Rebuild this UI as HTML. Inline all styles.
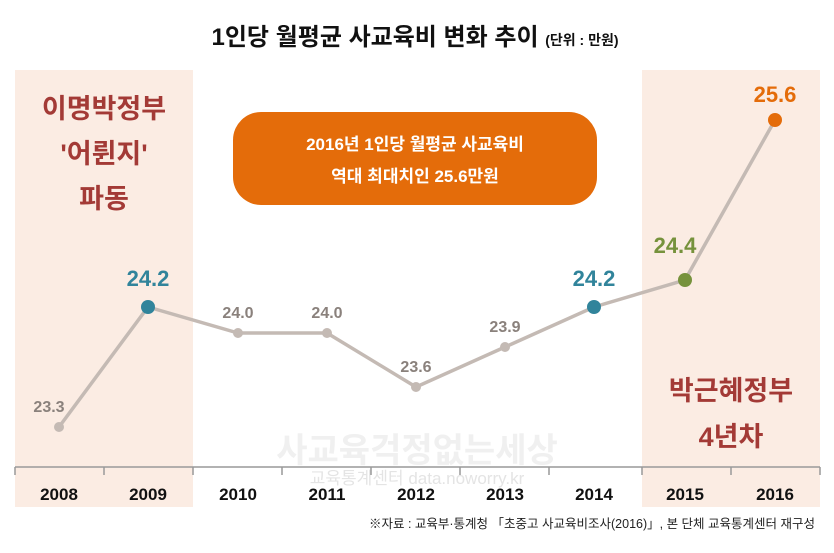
<!DOCTYPE html>
<html><head><meta charset="utf-8"><style>
body{margin:0;width:834px;height:548px;background:#fff;overflow:hidden;font-family:"Liberation Sans","Noto Sans CJK KR",sans-serif}
</style></head><body>
<svg width="834" height="548" xmlns="http://www.w3.org/2000/svg" font-family="Liberation Sans, Noto Sans CJK KR, sans-serif">
<rect x="15" y="70" width="178" height="437" fill="#fbece3"/>
<rect x="642" y="70" width="178" height="437" fill="#fbece3"/>
<text x="415" y="45" text-anchor="middle" font-size="24" font-weight="bold" fill="#111">1인당 월평균 사교육비 변화 추이 <tspan font-size="14">(단위 : 만원)</tspan></text>
<rect x="233" y="112" width="364" height="93" rx="28" fill="#e46c0a"/>
<text x="415" y="150" text-anchor="middle" font-size="17" font-weight="bold" fill="#fff">2016년 1인당 월평균 사교육비</text>
<text x="415" y="182" text-anchor="middle" font-size="17" font-weight="bold" fill="#fff">역대 최대치인 25.6만원</text>
<g font-size="27" font-weight="bold" fill="#a33a36" text-anchor="middle">
<text x="104" y="118">이명박정부</text><text x="104" y="163">'어륀지'</text><text x="104" y="208">파동</text>
<text x="731" y="400">박근혜정부</text><text x="731" y="446">4년차</text></g>
<text x="417" y="462" text-anchor="middle" font-size="34" font-weight="bold" fill="#f0f0f0">사교육걱정없는세상</text>
<text x="417" y="484" text-anchor="middle" font-size="17" fill="#e4e4e4">교육통계센터 data.noworry.kr</text>
<line x1="15" y1="467" x2="820" y2="467" stroke="#999" stroke-width="1.5"/>
<g stroke="#999" stroke-width="1.5">
<line x1="15" y1="467" x2="15" y2="475"/><line x1="104" y1="467" x2="104" y2="475"/><line x1="193" y1="467" x2="193" y2="475"/><line x1="282" y1="467" x2="282" y2="475"/><line x1="371" y1="467" x2="371" y2="475"/><line x1="460" y1="467" x2="460" y2="475"/><line x1="549" y1="467" x2="549" y2="475"/><line x1="642" y1="467" x2="642" y2="475"/><line x1="731" y1="467" x2="731" y2="475"/><line x1="820" y1="467" x2="820" y2="475"/></g>
<g font-size="17" font-weight="bold" fill="#111" text-anchor="middle">
<text x="59" y="500">2008</text><text x="148" y="500">2009</text><text x="238" y="500">2010</text><text x="327" y="500">2011</text><text x="416" y="500">2012</text><text x="505" y="500">2013</text><text x="594" y="500">2014</text><text x="685" y="500">2015</text><text x="775" y="500">2016</text></g>
<polyline points="59,427 148,307 238,333 327,333 416,387 505,347 594,307 685,280 775,120" fill="none" stroke="#c4bab4" stroke-width="3.5"/>
<g fill="#c4bab4"><circle cx="59" cy="427" r="5"/><circle cx="238" cy="333" r="5"/><circle cx="327" cy="333" r="5"/><circle cx="416" cy="387" r="5"/><circle cx="505" cy="347" r="5"/></g>
<circle cx="148" cy="307" r="7" fill="#31849b"/><circle cx="594" cy="307" r="7" fill="#31849b"/>
<circle cx="685" cy="280" r="7" fill="#76923c"/><circle cx="775" cy="120" r="7" fill="#e46c0a"/>
<g font-size="16" font-weight="bold" fill="#8a817c" text-anchor="middle">
<text x="49" y="412">23.3</text><text x="238" y="318">24.0</text><text x="327" y="318">24.0</text><text x="416" y="372">23.6</text><text x="505" y="332">23.9</text></g>
<g font-size="22" font-weight="bold" text-anchor="middle">
<text x="148" y="286" fill="#31849b">24.2</text><text x="594" y="286" fill="#31849b">24.2</text>
<text x="675" y="253" fill="#76923c">24.4</text><text x="775" y="102" fill="#e46c0a">25.6</text></g>
<text x="815" y="528" text-anchor="end" font-size="12.5" fill="#222">※자료 : 교육부·통계청 「초중고 사교육비조사(2016)」, 본 단체 교육통계센터 재구성</text>
</svg>
</body></html>
